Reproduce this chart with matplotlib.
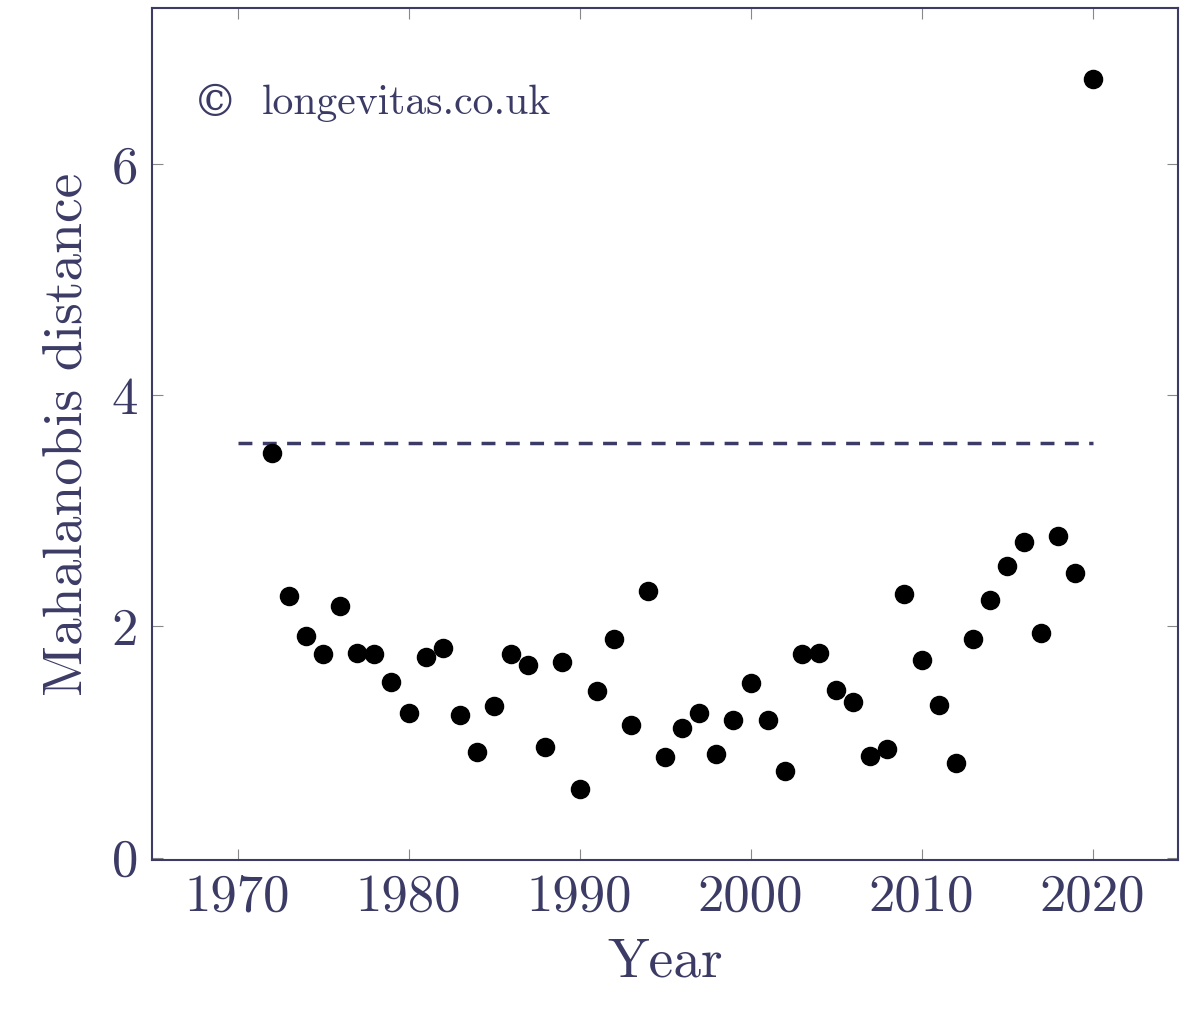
import matplotlib
matplotlib.use("Agg")
import matplotlib.pyplot as plt

years = list(range(1972, 2021))
distance = [3.50, 2.26, 1.92, 1.76, 2.18, 1.77, 1.76, 1.52, 1.25, 1.74,
            1.81, 1.23, 0.91, 1.31, 1.76, 1.67, 0.96, 1.69, 0.59, 1.44,
            1.89, 1.15, 2.31, 0.87, 1.12, 1.25, 0.90, 1.19, 1.51, 1.19,
            0.75, 1.76, 1.77, 1.45, 1.35, 0.88, 0.94, 2.28, 1.71, 1.32,
            0.82, 1.89, 2.23, 2.52, 2.73, 1.94, 2.78, 2.46, 6.74]
threshold_x = [1970, 2020]
threshold_y = [3.59, 3.59]
xticks = [1970, 1980, 1990, 2000, 2010, 2020]
yticks = [0, 2, 4, 6]

C = "#3b3b66"
plt.rcParams["font.family"] = "serif"
plt.rcParams["font.serif"] = ["cmr10", "DejaVu Serif"]
plt.rcParams["axes.formatter.use_mathtext"] = True

fig = plt.figure(figsize=(11.92, 10.22), dpi=100)
ax = fig.add_axes([152/1192, 1-860/1022, (1178-152)/1192, (860-8)/1022])
ax.scatter(years, distance, s=170, color="black", zorder=3)
ax.plot(threshold_x, threshold_y, ls=(0, (4, 3)), color=C, lw=2.5)
ax.set_xlim(1965, 2025)
ax.set_ylim(-0.02, 7.35)
ax.set_xticks(xticks)
ax.set_yticks(yticks)
ax.set_xticklabels([str(t) for t in xticks])
ax.set_yticklabels([str(t) for t in yticks])
ax.tick_params(direction="in", top=True, right=True, length=8, color="#888888",
               labelsize=38, labelcolor=C, pad=10)
for s in ax.spines.values():
    s.set_color(C)
    s.set_linewidth(1.5)
ax.set_xlabel("Year", fontsize=40, color=C, labelpad=12)
ax.set_ylabel("Mahalanobis distance", fontsize=40, color=C, labelpad=14)
ax.text(0.04, 0.888, "\u00a9", transform=ax.transAxes, fontsize=32, color=C,
        family="DejaVu Serif", va="center")
ax.text(0.107, 0.888, "longevitas.co.uk", transform=ax.transAxes, fontsize=30,
        color=C, va="center")
fig.savefig("out.png", dpi=100)
